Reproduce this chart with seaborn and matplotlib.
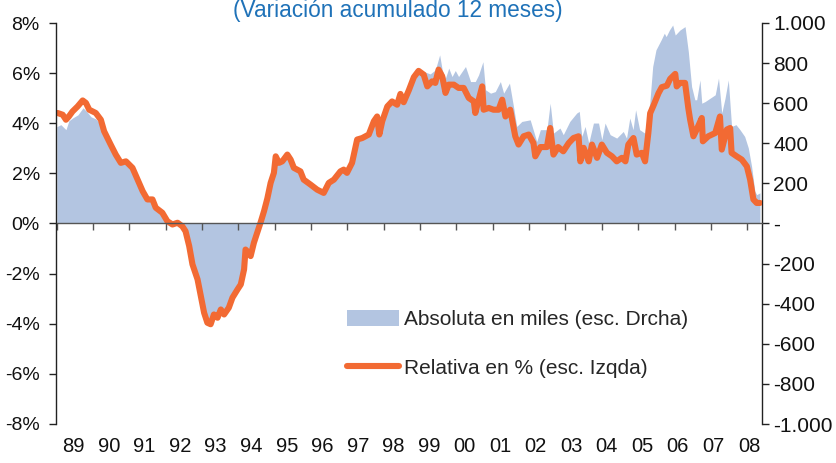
import matplotlib
matplotlib.use("Agg")
import numpy as np
import pandas as pd
import seaborn as sns
import matplotlib.pyplot as plt
from matplotlib.patches import Patch
from matplotlib.lines import Line2D

# ---------------- data ----------------
title = "(Variación acumulado 12 meses)"
year_labels = ["89", "90", "91", "92", "93", "94", "95", "96", "97", "98",
               "99", "00", "01", "02", "03", "04", "05", "06", "07", "08"]
legend_labels = ["Absoluta en miles (esc. Drcha)", "Relativa en % (esc. Izqda)"]

# Relative change in % (left scale)
rel_x = [1989.03, 1989.17, 1989.26, 1989.34, 1989.44, 1989.58, 1989.72, 1989.81, 1989.90,
         1990.08, 1990.22, 1990.31, 1990.49, 1990.63, 1990.77, 1990.91,
         1991.09, 1991.23, 1991.37, 1991.50, 1991.64, 1991.73, 1991.91,
         1992.05, 1992.19, 1992.33, 1992.46, 1992.55, 1992.65, 1992.74, 1992.88, 1992.97,
         1993.06, 1993.15, 1993.24, 1993.33, 1993.43, 1993.52, 1993.61, 1993.74, 1993.84, 1993.98,
         1994.07, 1994.16, 1994.20, 1994.29, 1994.34, 1994.43, 1994.52, 1994.62, 1994.71, 1994.80,
         1994.89, 1994.98, 1995.03, 1995.12, 1995.21, 1995.35, 1995.44, 1995.53, 1995.71, 1995.80,
         1995.99, 1996.17, 1996.35, 1996.49, 1996.63, 1996.81, 1996.90, 1996.99,
         1997.13, 1997.27, 1997.41, 1997.59, 1997.73, 1997.82, 1997.88, 1997.96,
         1998.10, 1998.23, 1998.37, 1998.46, 1998.55, 1998.69, 1998.83, 1998.96,
         1999.10, 1999.20, 1999.33, 1999.42, 1999.51, 1999.61, 1999.70, 1999.79, 1999.93,
         2000.06, 2000.20, 2000.34, 2000.48, 2000.52, 2000.71, 2000.75, 2000.89,
         2001.02, 2001.16, 2001.26, 2001.35, 2001.48, 2001.62, 2001.71, 2001.85, 2001.99,
         2002.12, 2002.17, 2002.31, 2002.49, 2002.58, 2002.67, 2002.80, 2002.94,
         2003.09, 2003.22, 2003.36, 2003.41, 2003.50, 2003.64, 2003.73, 2003.87,
         2004.00, 2004.14, 2004.28, 2004.41, 2004.55, 2004.65, 2004.73, 2004.87, 2004.96,
         2005.10, 2005.19, 2005.28, 2005.33, 2005.42, 2005.56, 2005.65, 2005.79, 2005.88,
         2006.02, 2006.06, 2006.15, 2006.29, 2006.38, 2006.43, 2006.52, 2006.61, 2006.75, 2006.78, 2006.93,
         2007.12, 2007.25, 2007.30, 2007.44, 2007.53, 2007.57, 2007.71, 2007.85, 2007.99,
         2008.08, 2008.17, 2008.26, 2008.35]
rel_pct = [4.41, 4.34, 4.14, 4.27, 4.47, 4.67, 4.91, 4.81, 4.54,
           4.41, 4.14, 3.68, 3.15, 2.75, 2.42, 2.48,
           2.22, 1.75, 1.29, 0.96, 0.96, 0.63, 0.43,
           0.09, -0.04, 0.03, -0.11, -0.31, -0.90, -1.63, -2.23, -2.90,
           -3.56, -3.96, -4.02, -3.63, -3.76, -3.43, -3.63, -3.36, -2.96, -2.63,
           -2.43, -1.83, -1.04, -1.17, -1.30, -0.77, -0.37, 0.07, 0.50, 1.00,
           1.62, 2.02, 2.68, 2.42, 2.48, 2.75, 2.55, 2.22, 2.08, 1.75,
           1.55, 1.35, 1.22, 1.62, 1.75, 2.08, 2.15, 2.02,
           2.42, 3.35, 3.41, 3.55, 4.08, 4.27, 3.55, 4.08,
           4.67, 4.87, 4.74, 5.17, 4.84, 5.31, 5.84, 6.09,
           5.94, 5.47, 5.67, 5.61, 6.14, 5.87, 5.21, 5.54, 5.54,
           5.41, 5.41, 5.01, 4.87, 4.41, 5.47, 4.54, 4.61,
           4.54, 4.54, 4.94, 4.27, 4.54, 3.48, 3.15, 3.48, 3.55,
           3.21, 2.68, 3.05, 3.05, 3.81, 2.75, 3.05, 2.88,
           3.21, 3.41, 3.48, 2.48, 3.02, 2.48, 3.15, 2.62,
           3.15, 2.82, 2.68, 2.48, 2.62, 2.48, 3.15, 3.41, 2.75,
           2.82, 2.48, 3.61, 4.40, 4.70, 5.20, 5.44, 5.50, 5.77,
           5.97, 5.47, 5.61, 5.61, 4.60, 4.14, 3.48, 3.75, 4.21, 3.28, 3.48,
           3.61, 4.27, 2.95, 3.75, 3.81, 2.82, 2.68, 2.55, 2.28,
           1.75, 0.96, 0.82, 0.82]

# Absolute change in thousands (right scale)
abs_x = [1989.01, 1989.12, 1989.26, 1989.34, 1989.45, 1989.59, 1989.73, 1989.84, 1989.95,
         1990.08, 1990.22, 1990.31, 1990.49, 1990.63, 1990.77, 1990.91,
         1991.09, 1991.23, 1991.37, 1991.50, 1991.64, 1991.73, 1991.91,
         1992.05, 1992.19, 1992.33, 1992.46, 1992.55, 1992.65, 1992.74, 1992.88, 1992.97,
         1993.06, 1993.15, 1993.24, 1993.33, 1993.43, 1993.52, 1993.61, 1993.74, 1993.84, 1993.98,
         1994.07, 1994.16, 1994.20, 1994.29, 1994.34, 1994.43, 1994.52, 1994.62, 1994.71, 1994.80,
         1994.89, 1994.98, 1995.03, 1995.12, 1995.21, 1995.35, 1995.44, 1995.53, 1995.71, 1995.80,
         1995.99, 1996.17, 1996.35, 1996.49, 1996.63, 1996.81, 1996.90, 1996.99,
         1997.13, 1997.27, 1997.41, 1997.59, 1997.73, 1997.82, 1997.88, 1997.96,
         1998.10, 1998.23, 1998.37, 1998.46, 1998.55, 1998.69, 1998.83, 1998.96,
         1999.10, 1999.28, 1999.42, 1999.54, 1999.61, 1999.70, 1999.79, 1999.88, 1999.97,
         2000.06, 2000.25, 2000.39, 2000.52, 2000.61, 2000.73, 2000.80, 2000.94,
         2001.07, 2001.21, 2001.30, 2001.46, 2001.57, 2001.66, 2001.80,
         2002.03, 2002.21, 2002.31, 2002.49, 2002.58, 2002.67, 2002.85, 2002.94,
         2003.12, 2003.31, 2003.38, 2003.45, 2003.54, 2003.64, 2003.77, 2003.91,
         2004.00, 2004.09, 2004.23, 2004.41, 2004.59, 2004.68, 2004.77, 2004.86, 2004.93,
         2005.04, 2005.18, 2005.32, 2005.40, 2005.49, 2005.63, 2005.72, 2005.77, 2005.86, 2005.95,
         2006.02, 2006.15, 2006.29, 2006.38, 2006.47, 2006.56, 2006.61, 2006.70, 2006.75, 2006.84, 2006.98,
         2007.12, 2007.21, 2007.30, 2007.39, 2007.48, 2007.57, 2007.69, 2007.80, 2007.93,
         2008.03, 2008.12, 2008.21, 2008.26, 2008.35]
abs_k = [483, 493, 468, 512, 527, 542, 577, 557, 532,
         522, 493, 450, 385, 335, 295, 300,
         270, 210, 155, 115, 115, 75, 50,
         8, -8, 2, -15, -40, -112, -202, -278, -360,
         -443, -492, -500, -452, -468, -427, -452, -418, -368, -328,
         -302, -228, -130, -146, -162, -96, -46, 8, 60, 122,
         198, 248, 330, 298, 305, 338, 313, 273, 256, 215,
         190, 166, 150, 200, 216, 257, 266, 250,
         300, 415, 423, 441, 507, 531, 442, 507,
         582, 607, 592, 644, 604, 662, 730, 770,
         758, 746, 766, 841, 766, 725, 775, 733, 763,
         733, 783, 708, 708, 741, 807, 667, 650,
         658, 708, 650, 700, 584, 484, 509,
         517, 409, 468, 468, 600, 451, 476, 443,
         509, 551, 559, 434, 484, 401, 501, 501,
         418, 501, 443, 426, 459, 426, 526, 468, 567,
         468, 451, 602, 783, 866, 915, 949, 932, 965, 990,
         940, 965, 982, 857, 683, 617, 617, 716, 600, 608, 625,
         642, 725, 551, 625, 716, 484, 493, 468, 434,
         377, 285, 161, 144, 153]

left_ticks = [-8, -6, -4, -2, 0, 2, 4, 6, 8]
right_ticks = [-1000, -800, -600, -400, -200, 0, 200, 400, 600, 800, 1000]
year_starts = list(range(1989, 2009))

# ---------------- style ----------------
BLUE = "#b3c5e1"
ORANGE = "#f26a33"
TITLE_BLUE = "#1f72b8"

sns.set_theme(style="white")
plt.rcParams["font.family"] = ["Liberation Sans", "DejaVu Sans"]

fig = plt.figure(figsize=(8.37, 4.63), dpi=100)
W, H = 837.0, 463.0
x0, x1, y0, y1 = 56.5, 762.3, 23.0, 424.0
ax = fig.add_axes([x0 / W, 1 - y1 / H, (x1 - x0) / W, (y1 - y0) / H])
ax2 = ax.twinx()

# area (right scale)
ax2.fill_between(abs_x, 0, abs_k, color=BLUE, lw=0)
ax2.set_ylim(-1000, 1000)

# line (left scale) on top
ax.set_zorder(ax2.get_zorder() + 1)
ax.patch.set_visible(False)
df = pd.DataFrame({"x": rel_x, "pct": rel_pct})
sns.lineplot(data=df, x="x", y="pct", ax=ax, color=ORANGE, lw=4.4, sort=False)
ax.set_ylim(-8, 8)
ax.set_xlim(1989.0, 1989.0 + (x1 - 55.6) / 36.4)
ax.set_xlabel("")
ax.set_ylabel("")
ax2.set_ylabel("")

# spines
for s in ["top", "right"]:
    ax.spines[s].set_visible(False)
ax.spines["left"].set_color("#222222")
ax.spines["left"].set_linewidth(1.0)
ax.spines["bottom"].set_position(("data", 0))
ax.spines["bottom"].set_color("#555555")
ax.spines["bottom"].set_linewidth(1.0)
for s in ["top", "left", "bottom"]:
    ax2.spines[s].set_visible(False)
ax2.spines["right"].set_color("#222222")
ax2.spines["right"].set_linewidth(1.0)

# left ticks
ax.set_yticks(left_ticks)
ax.set_yticklabels([f"{v}%" for v in left_ticks])
ax.tick_params(axis="y", left=True, direction="out", length=5, width=1,
               color="#222222", pad=7, labelsize=14, labelcolor="#111111")

# x ticks (year boundaries) on zero line, labels below the plot
ax.set_xticks(year_starts)
ax.set_xticklabels([])
ax.tick_params(axis="x", bottom=True, direction="out", length=5, width=1,
               color="#555555")
lab_px0, lab_step = 73.5, (749.0 - 73.5) / 19
for i, lab in enumerate(year_labels):
    px = lab_px0 + i * lab_step
    fig.text(px / W, 1 - 447 / H, lab, ha="center", va="center",
             fontsize=14.5, color="#111111")

# right ticks
def fmt_right(v):
    if v == 0:
        return "-"
    return f"{v:,}".replace(",", ".")

ax2.set_yticks(right_ticks)
ax2.set_yticklabels([fmt_right(v) for v in right_ticks])
ax2.tick_params(axis="y", right=True, direction="out", length=5, width=1,
                color="#222222", pad=3, labelsize=15, labelcolor="#111111")
ax.grid(False)
ax2.grid(False)

# legend
handles = [Patch(facecolor=BLUE, edgecolor="none"),
           Line2D([], [], color=ORANGE, lw=4.4)]
ax.legend(handles=handles, labels=legend_labels, loc="upper left",
          bbox_to_anchor=(347 / W, 1 - 310 / H), bbox_transform=fig.transFigure,
          frameon=False, fontsize=15, handlelength=2.5, handleheight=0.82,
          handletextpad=0.25, labelspacing=1.4, borderpad=0, borderaxespad=0)

# title (kept fully inside the figure, just above the plot)
fig.text(398 / W, 1 - 17 / H, title, color=TITLE_BLUE, fontsize=16.3,
         ha="center", va="baseline")

fig.savefig("out.png", dpi=100)
